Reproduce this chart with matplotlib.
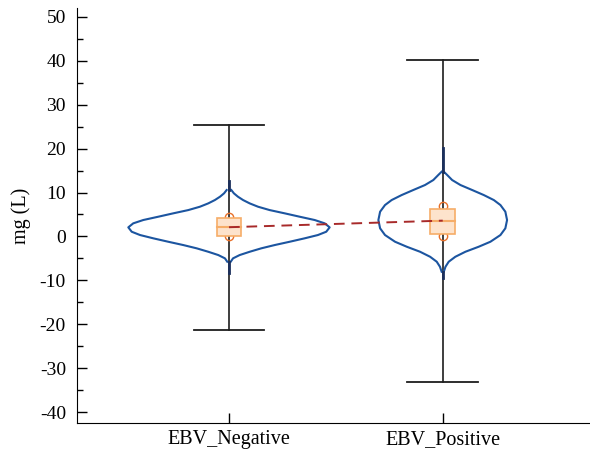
import matplotlib
matplotlib.use("Agg")
import matplotlib.pyplot as plt
from matplotlib.ticker import MultipleLocator
import numpy as np

plt.rcParams['font.family'] = ['Liberation Serif', 'DejaVu Serif']
plt.rcParams['axes.unicode_minus'] = False

categories = ["EBV_Negative", "EBV_Positive"]
positions = [1, 2]

# whisker extents
whisk_low = [-21.3, -33.2]
whisk_high = [25.5, 40.2]

# box stats
box_q1 = [0.1, 0.5]
box_med = [2.1, 3.6]
box_q3 = [4.2, 6.3]
mark_high = [4.5, 6.9]
mark_low = [0.0, 0.1]

# violin tails (thin density tails)
tail_low = [-8.3, -9.4]
tail_high = [12.6, 20.1]

# violin profiles (value, half-width)
neg_vals = [10.57, 9.82, 9.05, 8.29, 7.53, 6.77, 6.01, 5.26, 4.49, 3.74, 2.98, 2.07,
            1.07, 0.32, -0.43, -1.21, -1.96, -2.71, -3.49, -4.24, -4.99, -5.76]
neg_hw = [0.011, 0.023, 0.042, 0.066, 0.097, 0.136, 0.190, 0.261, 0.331, 0.401, 0.448, 0.471,
          0.455, 0.416, 0.354, 0.284, 0.214, 0.151, 0.097, 0.050, 0.019, 0.008]
pos_vals = [14.75, 13.99, 12.85, 11.71, 10.57, 9.43, 8.29, 7.15, 5.63, 3.74, 1.85, 0.32,
            -1.21, -2.35, -3.49, -4.63, -5.76, -6.90, -8.04]
pos_hw = [0.005, 0.021, 0.044, 0.083, 0.138, 0.192, 0.239, 0.270, 0.293, 0.301, 0.293, 0.270,
          0.223, 0.168, 0.106, 0.059, 0.028, 0.013, 0.005]
profiles = [(neg_vals, neg_hw), (pos_vals, pos_hw)]

fig = plt.figure(figsize=(5.9, 4.51), dpi=100)
ax = fig.add_axes([77/590, 1 - 423/451, 1 - 77/590, (423 - 8)/451])

violin_color = '#1c55a0'
box_face = '#fde3cc'
box_edge = '#f6ad68'
whisk_color = '#1e1e1e'

for i, p in enumerate(positions):
    # whisker
    ax.plot([p, p], [whisk_low[i], whisk_high[i]], color=whisk_color, lw=1.2, zorder=1)
    cap = 0.165
    ax.plot([p - cap, p + cap], [whisk_high[i]] * 2, color=whisk_color, lw=1.3, zorder=1)
    ax.plot([p - cap, p + cap], [whisk_low[i]] * 2, color=whisk_color, lw=1.3, zorder=1)
    # violin
    vals, hw = profiles[i]
    vals = np.array(vals)
    hw = np.array(hw)
    ax.plot(p - hw, vals, color=violin_color, lw=1.5, zorder=2, solid_joinstyle='round')
    ax.plot(p + hw, vals, color=violin_color, lw=1.5, zorder=2, solid_joinstyle='round')
    ax.plot([p, p], [vals[0], tail_high[i]], color='#1b2f5c', lw=2.0, zorder=2)
    ax.plot([p, p], [vals[-1], tail_low[i]], color='#1b2f5c', lw=2.0, zorder=2)
    # markers
    ax.plot([p, p], [mark_high[i], mark_low[i]], ls='none', marker='o', ms=6,
            mfc='none', mec='#e8702a', mew=1.0, zorder=3)
    # box
    bw = 0.058
    rect = plt.Rectangle((p - bw, box_q1[i]), 2 * bw, box_q3[i] - box_q1[i],
                         facecolor=box_face, edgecolor=box_edge, lw=1.2, zorder=4)
    ax.add_patch(rect)
    ax.plot([p - bw, p + bw], [box_med[i]] * 2, color=box_edge, lw=1.5, zorder=5)

ax.plot(positions, box_med, color='#a82a2a', lw=1.4, ls=(0, (5.5, 3.5)), zorder=6)

ax.set_xlim(0.289, 2.689)
ax.set_ylim(-42.5, 52.04)
ax.set_xticks(positions)
ax.set_xticklabels(categories, fontsize=14.5)
ax.yaxis.set_major_locator(MultipleLocator(10))
ax.yaxis.set_minor_locator(MultipleLocator(5))
ax.tick_params(axis='y', which='major', direction='in', length=7, width=1, labelsize=14, pad=8)
ax.tick_params(axis='y', which='minor', direction='in', length=4, width=1)
ax.tick_params(axis='x', which='major', direction='in', length=7, width=1, pad=5)
ax.spines['top'].set_visible(False)
ax.spines['right'].set_visible(False)
ax.set_ylabel('mg (L)', fontsize=14.5, labelpad=6)

fig.savefig('out.png', dpi=100)
